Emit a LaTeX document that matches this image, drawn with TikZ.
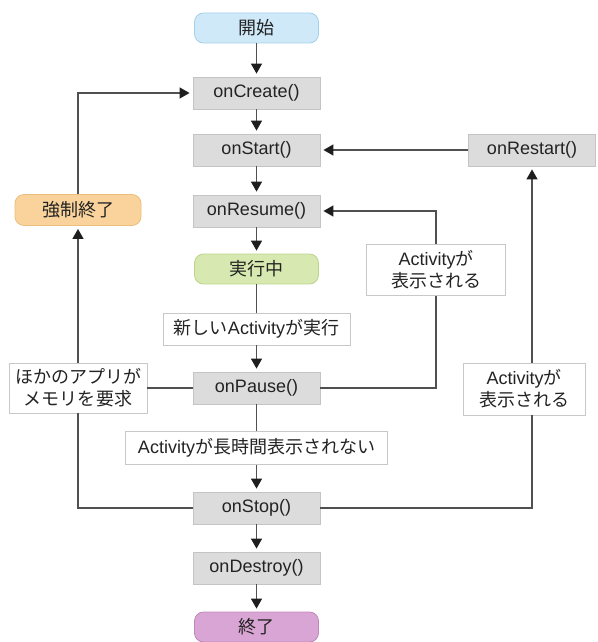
\documentclass[tikz,border=0pt]{standalone}
\usepackage{fontspec}
\setmainfont{Liberation Sans}
\newfontfamily\jp{Noto Sans CJK JP}
\usetikzlibrary{arrows.meta,calc}
\definecolor{txt}{RGB}{35,35,35}
\definecolor{ln}{RGB}{80,80,80}
\definecolor{tip}{RGB}{30,30,30}
\definecolor{grayfill}{RGB}{220,220,220}
\definecolor{graydraw}{RGB}{196,196,196}
\definecolor{bluefill}{RGB}{208,233,249}
\definecolor{bluedraw}{RGB}{165,208,236}
\definecolor{orangefill}{RGB}{249,211,155}
\definecolor{orangedraw}{RGB}{236,190,125}
\definecolor{greenfill}{RGB}{215,233,176}
\definecolor{greendraw}{RGB}{188,211,140}
\definecolor{purplefill}{RGB}{217,165,213}
\definecolor{purpledraw}{RGB}{192,135,187}
\definecolor{lbldraw}{RGB}{200,200,200}
\tikzset{
  base/.style={text=txt, font=\fontsize{18}{22}\selectfont, inner sep=0pt, line width=0.8pt, align=center},
  method/.style={base, fill=grayfill, draw=graydraw, minimum width=127pt, minimum height=32pt},
  state/.style={base, rounded corners=9pt, minimum width=124pt, minimum height=30pt},
  lbl/.style={base, fill=white, draw=lbldraw},
  conn/.style={draw=ln, line width=1.4pt},
  arr/.style={conn, -{Triangle[length=10pt,width=11pt,color=tip]}, shorten >=3pt}
}
\begin{document}
\begin{tikzpicture}[x=1pt,y=-1pt]
\path[use as bounding box] (0,0) rectangle (597,642);
% main column
\node[state, fill=bluefill, draw=bluedraw] (start) at (256.5,28) {\jp 開始};
\node[method] (create) at (256.5,93) {onCreate()};
\node[method] (startm) at (256.5,150) {onStart()};
\node[method] (resume) at (256.5,211) {onResume()};
\node[state, fill=greenfill, draw=greendraw] (run) at (256.5,269) {\jp 実行中};
\node[lbl, minimum width=187pt, minimum height=32pt] (newact) at (256.5,329) {{\jp 新しい}Activity{\jp が実行}};
\node[method] (pause) at (256.5,388) {onPause()};
\node[lbl, minimum width=262pt, minimum height=33pt] (long) at (256.5,448) {Activity{\jp が長時間表示されない}};
\node[method] (stop) at (256.5,508) {onStop()};
\node[method] (destroy) at (256.5,568) {onDestroy()};
\node[state, fill=purplefill, draw=purpledraw] (end) at (256.5,627) {\jp 終了};
% left column
\node[state, fill=orangefill, draw=orangedraw, minimum width=126pt, minimum height=31pt] (kill) at (78,210) {\jp 強制終了};
\node[lbl, minimum width=138pt, minimum height=50pt] (other) at (78,388) {\jp ほかのアプリが\\\jp メモリを要求};
% right side
\node[method] (restart) at (532,150) {onRestart()};
\node[lbl, minimum width=139pt, minimum height=51pt] (vis1) at (436,270) {Activity{\jp が}\\\jp 表示される};
\node[lbl, minimum width=122pt, minimum height=52pt] (vis2) at (524,389) {Activity{\jp が}\\\jp 表示される};
% main flow
\draw[arr] (start) -- (create);
\draw[arr] (create) -- (startm);
\draw[arr] (startm) -- (resume);
\draw[arr] (resume) -- (run);
\draw[conn] (run) -- (newact);
\draw[arr] (newact) -- (pause);
\draw[conn] (pause) -- (long);
\draw[arr] (long) -- (stop);
\draw[arr] (stop) -- (destroy);
\draw[arr] (destroy) -- (end);
% left loop
\draw[conn] (stop.west) -| (other.south);
\draw[conn] (pause.west) -- (other.east);
\draw[arr] (other.north) -- (kill.south);
\draw[arr] (kill.north) |- (create.west);
% middle right loop
\draw[conn] (pause.east) -| (vis1.south);
\draw[arr] (vis1.north) |- (resume.east);
% right loop
\draw[conn] (stop.east) -| (restart.center |- vis2.south);
\draw[arr] (restart.center |- vis2.north) -- (restart.south);
\draw[arr] (restart.west) -- (startm.east);
\end{tikzpicture}
\end{document}
